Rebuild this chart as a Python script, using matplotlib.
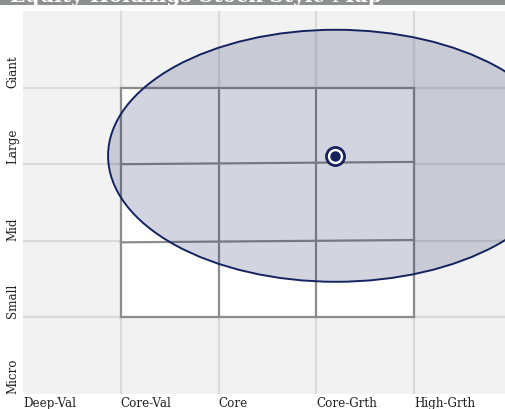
import matplotlib.pyplot as plt
from matplotlib.patches import Ellipse, Polygon

# style columns (left edges) and size rows (bottom edges)
style_labels = ["Deep-Val", "Core-Val", "Core", "Core-Grth", "High-Grth"]
size_labels = ["Micro", "Small", "Mid", "Large", "Giant"]

# style box: vertical lines (x at bottom, x at top), horizontal lines (y at left, y at right)
box_vlines = [(1.0, 1.0), (2.0, 2.0), (3.0, 3.0), (4.0, 4.0)]
box_hlines = [(1.0, 1.0), (1.98, 2.01), (3.0, 3.03), (4.0, 4.0)]

# ownership zone and centroid
zone_center = (3.2, 3.11)
zone_width = 4.66
zone_height = 3.29
centroid = (3.19, 3.11)

title = "Equity Holdings Stock Style Map"

navy = "#14235f"

fig = plt.figure(figsize=(5.06, 4.10), dpi=100)
W, H = 506, 410
ax = fig.add_axes([23 / W, 15 / H, (W - 23) / W, (395 - 12) / H])
ax.set_facecolor("#f2f2f2")
ax.set_xlim(0, 4.94)
ax.set_ylim(0, 5)
for s in ax.spines.values():
    s.set_visible(False)
ax.set_xticks([])
ax.set_yticks([])

# light background grid
for i in range(1, 5):
    ax.axvline(i, color="#dadada", lw=1.6, zorder=1)
    ax.axhline(i, color="#dadada", lw=1.6, zorder=1)

# white 3x3 style box
x0, x1 = box_vlines[0][0], box_vlines[-1][0]
y0, y1 = box_hlines[0][0], box_hlines[-1][0]
ax.add_patch(Polygon([(x0, y0), (x1, y0), (x1, y1), (x0, y1)], closed=True,
                     facecolor="white", edgecolor="none", zorder=2))
for xb, xt in box_vlines:
    ax.plot([xb, xt], [y0, y1], color="#8c8c8c", lw=1.6, zorder=3,
            solid_capstyle="projecting")
for yl, yr in box_hlines:
    ax.plot([x0, x1], [yl, yr], color="#8c8c8c", lw=1.6, zorder=3,
            solid_capstyle="projecting")

# ownership zone
ax.add_patch(Ellipse(zone_center, zone_width, zone_height, facecolor=navy,
                     alpha=0.19, edgecolor="none", zorder=4))
ax.add_patch(Ellipse(zone_center, zone_width, zone_height, facecolor="none",
                     edgecolor=navy, lw=1.4, zorder=5))

# centroid marker
ax.plot(*centroid, "o", ms=14, color=navy, zorder=6)
ax.plot(*centroid, "o", ms=10, color="white", zorder=7)
ax.plot(*centroid, "o", ms=6.5, color=navy, zorder=8)

# axis labels
for i, lab in enumerate(style_labels):
    ax.text(i, -0.02, lab, ha="left", va="top", fontsize=8.6,
            family="DejaVu Serif", color="#222222", clip_on=False)
for i, lab in enumerate(size_labels):
    ax.text(-0.105, i + 0.01, lab, ha="center", va="bottom", rotation=90,
            fontsize=8.6, family="DejaVu Serif", color="#222222", clip_on=False)

# title banner (mostly cut off at the top)
fig.patches.append(plt.Rectangle((0, 1 - 6 / H), 1, 6 / H, transform=fig.transFigure,
                                 facecolor="#8d9090", edgecolor="none"))
fig.text(10 / W, 1 - 1.5 / H, title, ha="left", va="baseline", fontsize=14.5,
         fontweight="bold", family="DejaVu Serif", color="white")

fig.savefig("out.png", dpi=100)
